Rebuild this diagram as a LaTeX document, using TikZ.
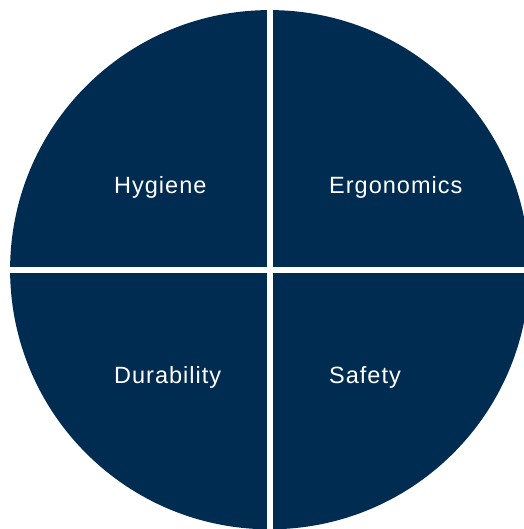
\documentclass[tikz,border=0pt]{standalone}
\usepackage{fontspec}
\setmainfont{Liberation Sans}
\newfontfamily\lblfont[LetterSpace=4.3]{Liberation Sans}
\definecolor{navy}{RGB}{1,44,81}
\begin{document}
\begin{tikzpicture}[x=1pt,y=1pt,
  quad/.style={fill=navy},
  lbl/.style={anchor=base west,inner sep=0pt,text=white,font=\lblfont\fontsize{23.5}{27}\selectfont}]
\useasboundingbox (0,0) rectangle (523,529);
\begin{scope}
  \clip (269.7,259.3) circle (259.6);
  \fill[quad] (0,262.3) rectangle (266.7,529);
  \fill[quad] (272.7,262.3) rectangle (540,529);
  \fill[quad] (0,0) rectangle (266.7,256.3);
  \fill[quad] (272.7,0) rectangle (540,256.3);
\end{scope}
\node[lbl] (hyg) at (114,335.7) {Hygiene};
\node[lbl] (erg) at (329,335.7) {Ergonomics};
\node[lbl] (dur) at (114,145.7) {Durability};
\node[lbl] (saf) at (329,145.7) {Safety};
\end{tikzpicture}
\end{document}
